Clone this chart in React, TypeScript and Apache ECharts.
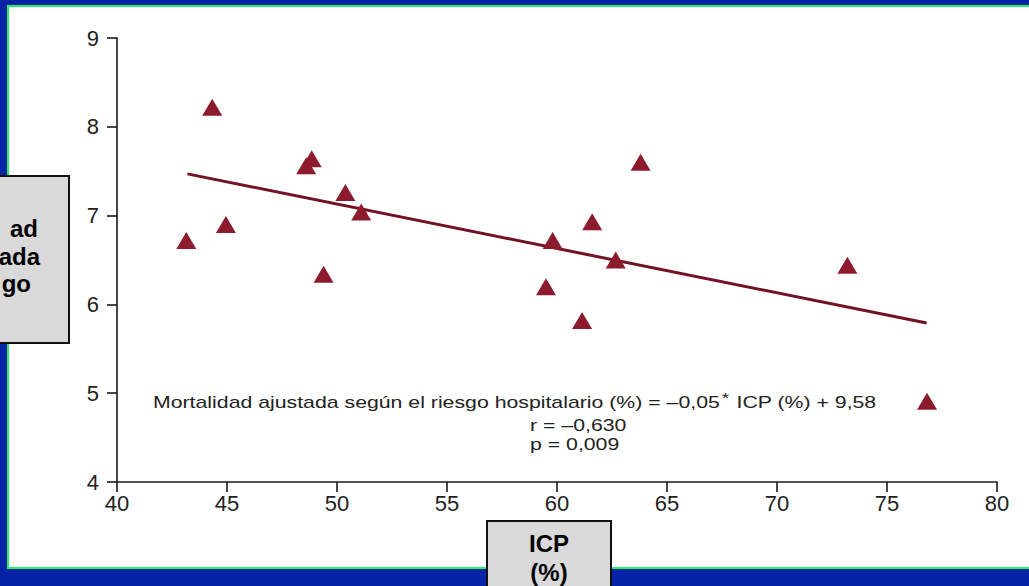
import React, { useEffect, useRef } from "react";
import * as echarts from "echarts";

const xTicks = { min: 40, max: 80, interval: 5 };
const yTicks = { min: 4, max: 9, interval: 1 };

const icp = [43.15, 44.33, 44.95, 48.6, 48.85, 49.39, 50.38, 51.1, 59.5, 59.8, 61.14, 61.6, 62.67, 63.8, 73.2, 76.82];
const mortality = [6.72, 8.22, 6.9, 7.56, 7.64, 6.34, 7.26, 7.04, 6.2, 6.72, 5.82, 6.93, 6.5, 7.6, 6.44, 4.91];

const fitX = [43.2, 76.8];
const fitY = [7.47, 5.79];

const equationText = ["Mortalidad ajustada según el riesgo hospitalario (%) = –0,05", "*", " ICP (%) + 9,58"];
const statsText = ["r = –0,630", "p = 0,009"];
const yTitleLines = ["ad", "ada", "go"];
const xTitleLines = ["ICP", "(%)"];

export default function App() {
  const ref = useRef<HTMLDivElement>(null);
  useEffect(() => {
    if (!ref.current) return;
    const chart = echarts.init(ref.current, null, { renderer: "svg" });
    const font = "Liberation Sans, Arial, Helvetica, sans-serif";
    const red = "#8c1b2d";
    chart.setOption({
      animation: false,
      backgroundColor: "#0423a6",
      grid: { left: 117, right: 32, top: 38, bottom: 104, containLabel: false },
      xAxis: {
        type: "value",
        min: xTicks.min,
        max: xTicks.max,
        interval: xTicks.interval,
        axisLine: { show: true, lineStyle: { color: "#1a1a1a", width: 1.6 } },
        axisTick: { show: true, length: 10, lineStyle: { color: "#1a1a1a", width: 1.6 } },
        axisLabel: { color: "#222", fontSize: 22, fontFamily: font, margin: 10 },
        splitLine: { show: false },
      },
      yAxis: {
        type: "value",
        min: yTicks.min,
        max: yTicks.max,
        interval: yTicks.interval,
        axisLine: { show: true, lineStyle: { color: "#1a1a1a", width: 1.6 } },
        axisTick: { show: true, length: 10, lineStyle: { color: "#1a1a1a", width: 1.6 } },
        axisLabel: { color: "#222", fontSize: 22, fontFamily: font, margin: 18 },
        splitLine: { show: false },
      },
      series: [
        {
          type: "line",
          data: fitX.map((x, i) => [x, fitY[i]]),
          symbol: "none",
          lineStyle: { color: "#731224", width: 3 },
          z: 2,
        },
        {
          type: "scatter",
          data: icp.map((x, i) => [x, mortality[i]]),
          symbol: "triangle",
          symbolSize: [20, 17],
          itemStyle: { color: red, opacity: 1 },
          z: 3,
        },
      ],
      graphic: [
        { type: "rect", z: -20, silent: true, shape: { x: 7, y: 5, width: 1100, height: 564 }, style: { fill: "#1ff060" } },
        { type: "rect", z: -19, silent: true, shape: { x: 9, y: 7, width: 1100, height: 560 }, style: { fill: "#ffffff" } },
        {
          type: "text",
          z: 50,
          x: 153,
          y: 402,
          scaleX: 1.33,
          style: {
            text: `{a|${equationText[0]}}{s|${equationText[1]}}{a|${equationText[2]}}`,
            rich: {
              a: { fontSize: 16, fontFamily: font, fill: "#222", verticalAlign: "middle" },
              s: { fontSize: 15, fontFamily: font, fill: "#222", padding: [0, 1, 8, 1] },
            },
            textVerticalAlign: "middle",
            textAlign: "left",
          },
        },
        {
          type: "text",
          z: 50,
          x: 530,
          y: 425,
          scaleX: 1.33,
          style: { text: statsText[0], fontSize: 16, fontFamily: font, fill: "#222", textVerticalAlign: "middle" },
        },
        {
          type: "text",
          z: 50,
          x: 530,
          y: 444,
          scaleX: 1.33,
          style: { text: statsText[1], fontSize: 16, fontFamily: font, fill: "#222", textVerticalAlign: "middle" },
        },
        {
          type: "rect",
          z: 100,
          shape: { x: -60, y: 176, width: 129, height: 167 },
          style: { fill: "#d9d9d9", stroke: "#111", lineWidth: 2 },
        },
        ...yTitleLines.map((t, i) => ({
          type: "text",
          z: 101,
          x: [38, 40, 31][i],
          y: [228, 256, 283][i],
          style: { text: t, fontSize: 24, fontWeight: "bold", fontFamily: font, fill: "#000", textAlign: "right", textVerticalAlign: "middle" },
        })),
        {
          type: "rect",
          z: 100,
          shape: { x: 487, y: 521, width: 124, height: 100 },
          style: { fill: "#d9d9d9", stroke: "#111", lineWidth: 2 },
        },
        ...xTitleLines.map((t, i) => ({
          type: "text",
          z: 101,
          x: 549,
          y: [543, 572][i],
          style: { text: t, fontSize: 24, fontWeight: "bold", fontFamily: font, fill: "#000", textAlign: "center", textVerticalAlign: "middle" },
        })),
      ],
    });
    return () => chart.dispose();
  }, []);
  return <div ref={ref} style={{ position: "fixed", left: 0, top: 0, width: 1029, height: 586 }} />;
}
